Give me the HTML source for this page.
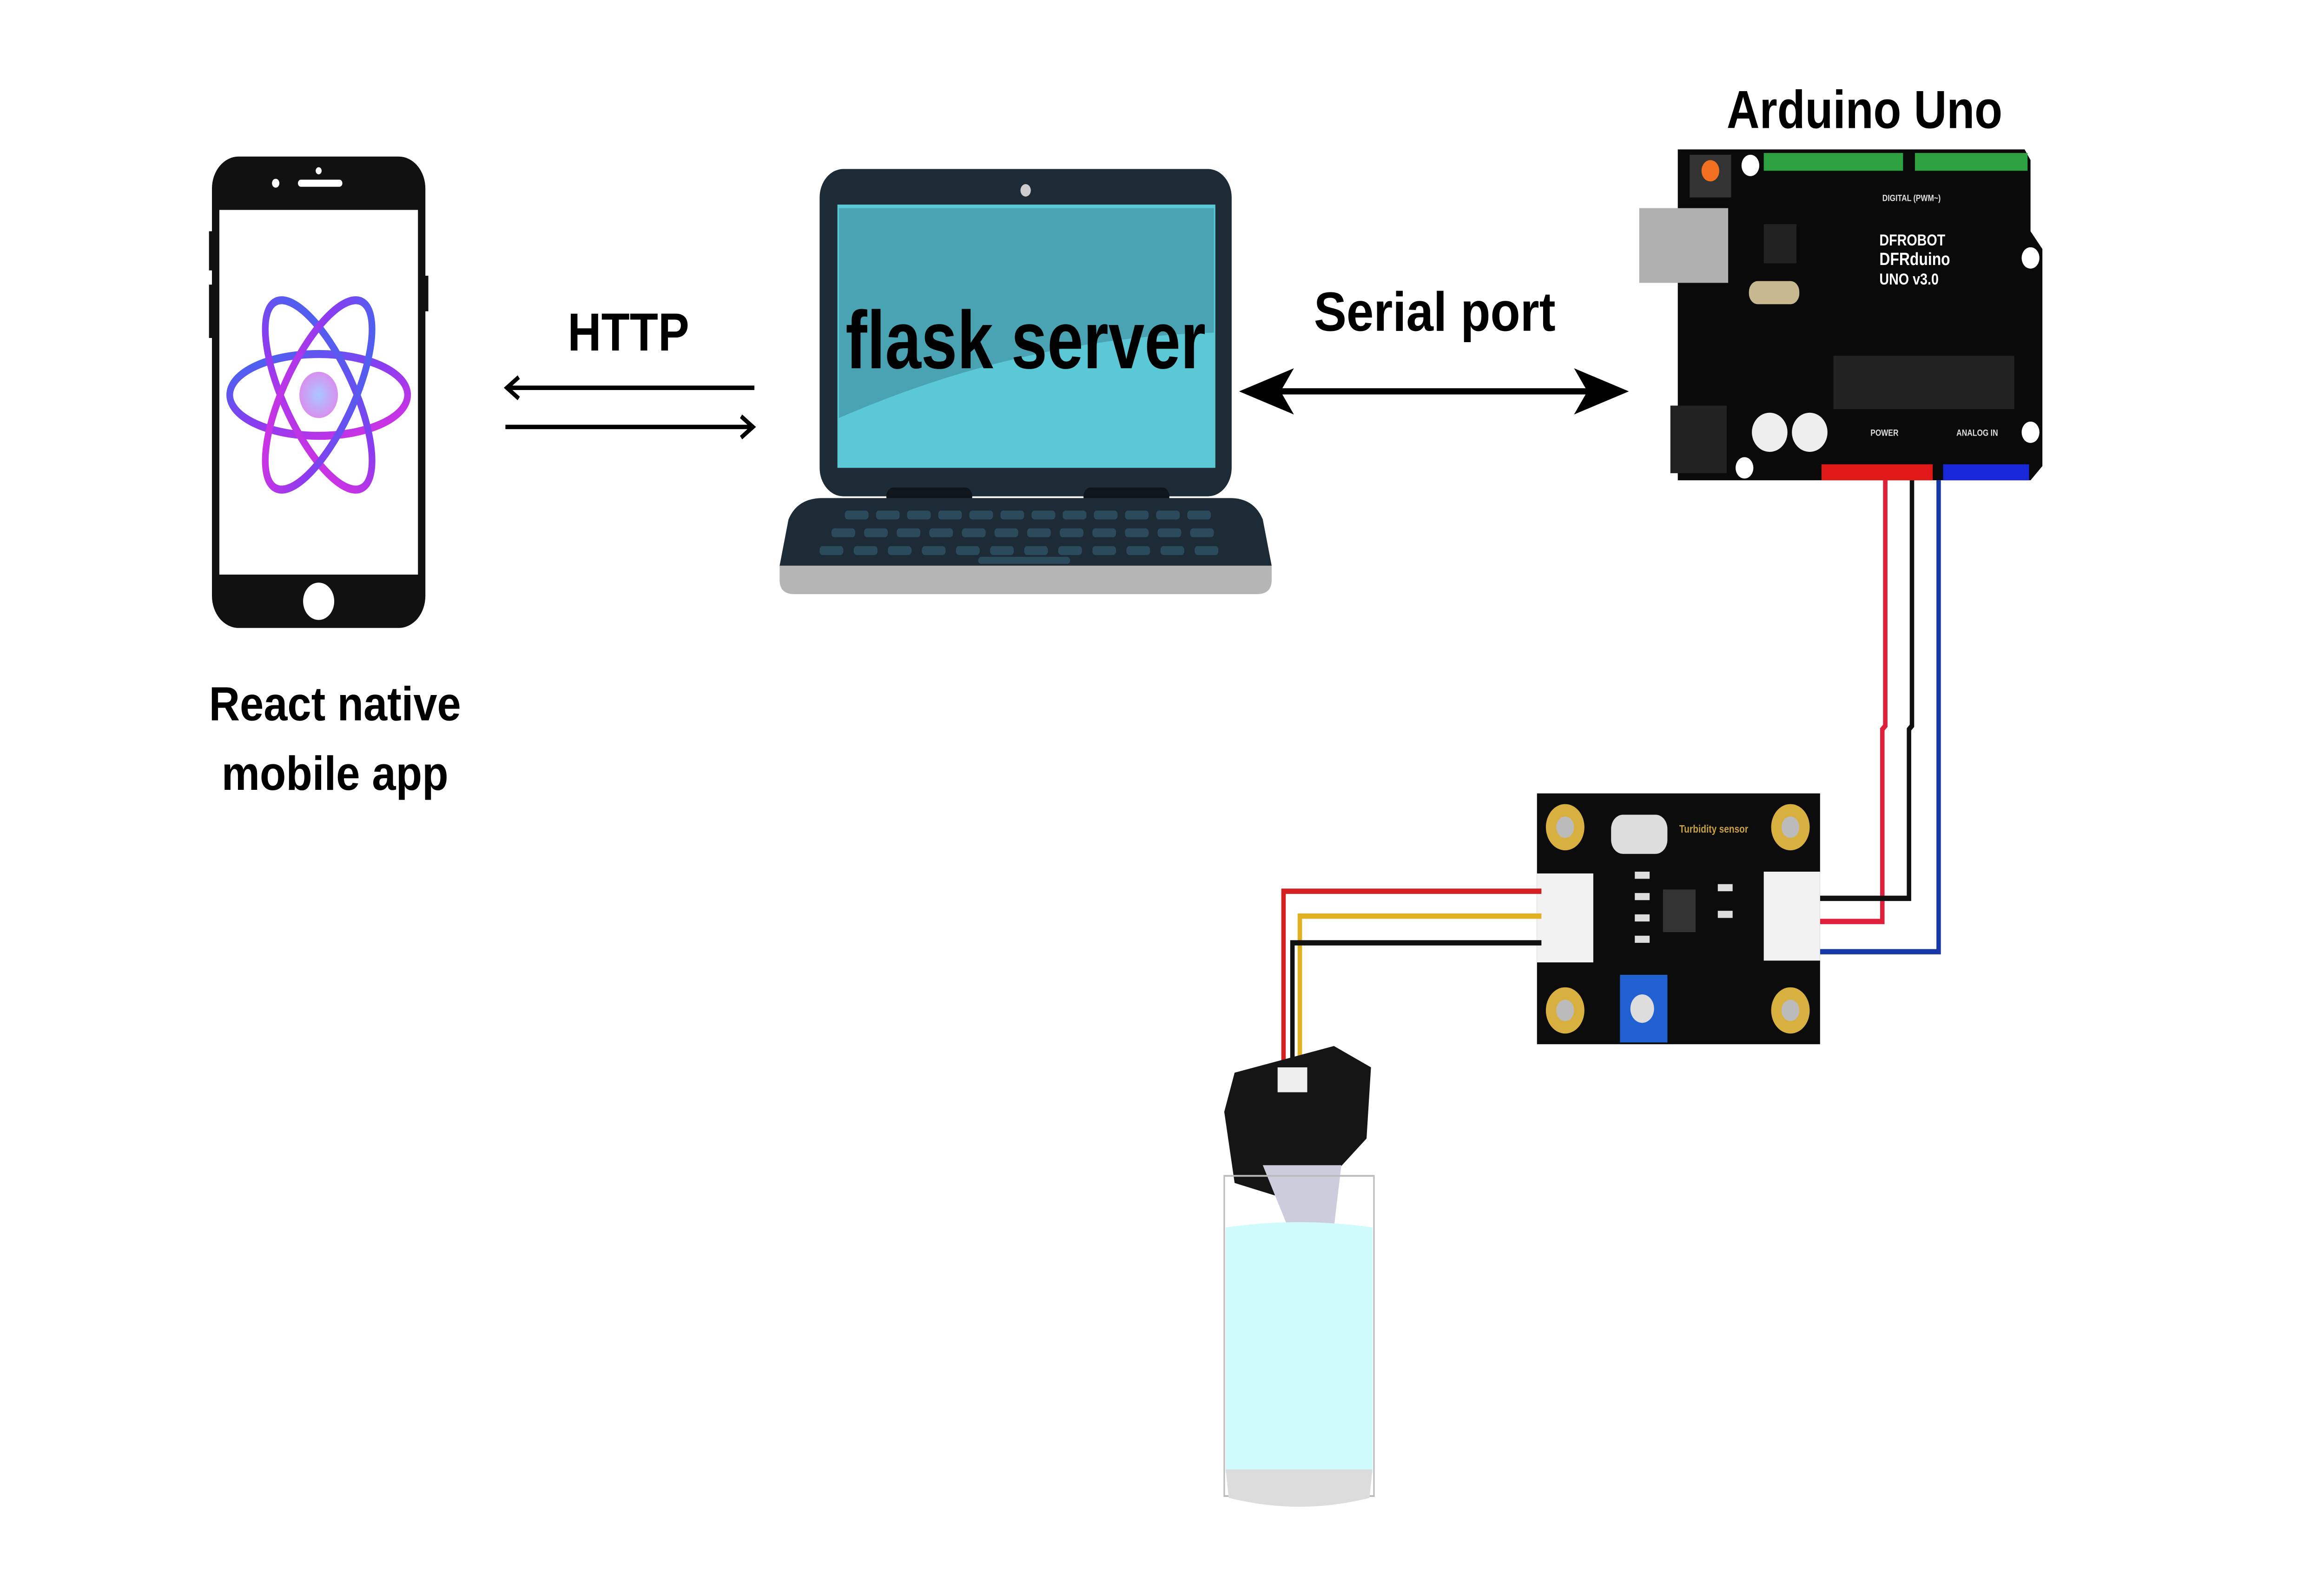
<!DOCTYPE html>
<html><head><meta charset="utf-8"><style>
html,body{margin:0;padding:0;background:#fff;width:100%;height:100%;overflow:hidden}
svg{display:block;position:fixed;left:0;top:0;width:100vw;height:100vh}
text{font-family:"Liberation Sans",sans-serif;font-weight:bold;fill:#000}
</style></head><body>
<svg viewBox="0 0 1568 882" preserveAspectRatio="none" xmlns="http://www.w3.org/2000/svg">
<defs>
<linearGradient id="ag" x1="0" y1="0" x2="1" y2="1">
<stop offset="0" stop-color="#3a6cf0"/><stop offset="0.5" stop-color="#8a3cf0"/><stop offset="1" stop-color="#e030e0"/>
</linearGradient>
<radialGradient id="cg"><stop offset="0" stop-color="#a8c8ff"/><stop offset="1" stop-color="#d890f0"/></radialGradient>
</defs>
<rect width="1568" height="882" fill="#fff"/>

<!-- Phone -->
<rect x="141" y="130" width="4" height="22" fill="#111"/>
<rect x="141" y="160" width="4" height="30" fill="#111"/>
<rect x="285" y="155" width="4" height="20" fill="#111"/>
<rect x="143" y="88" width="144" height="265" rx="18" fill="#111"/>
<rect x="148" y="118" width="134" height="205" fill="#fff"/>
<rect x="201" y="101" width="30" height="4" rx="2" fill="#fff"/>
<circle cx="186" cy="103" r="2.5" fill="#fff"/>
<circle cx="215" cy="96" r="2" fill="#fff"/>
<circle cx="215" cy="338" r="10.5" fill="#fff"/>
<g fill="none" stroke="url(#ag)" stroke-width="4.5">
<ellipse cx="215" cy="222" rx="60" ry="23"/>
<ellipse cx="215" cy="222" rx="60" ry="23" transform="rotate(60 215 222)"/>
<ellipse cx="215" cy="222" rx="60" ry="23" transform="rotate(120 215 222)"/>
</g>
<circle cx="215" cy="222" r="13" fill="url(#cg)"/>
<text x="226" y="405" font-size="27" text-anchor="middle" textLength="170" lengthAdjust="spacingAndGlyphs">React native</text>
<text x="226" y="444" font-size="27" text-anchor="middle" textLength="153" lengthAdjust="spacingAndGlyphs">mobile app</text>

<!-- HTTP arrows -->
<text x="424" y="197" font-size="30" text-anchor="middle" textLength="82" lengthAdjust="spacingAndGlyphs">HTTP</text>
<g stroke="#000" stroke-width="2.5" fill="none">
<line x1="342" y1="218" x2="509" y2="218"/>
<polyline points="350,212 342,218 350,224"/>
<line x1="341" y1="240" x2="508" y2="240"/>
<polyline points="500,234 508,240 500,246"/>
</g>

<!-- Laptop -->
<rect x="553" y="95" width="278" height="184" rx="16" fill="#1c2b36"/>
<rect x="565" y="115" width="255" height="148" fill="#5bc8d6"/>
<path d="M566,117 L819,117 L819,187 Q690,190 566,235 Z" fill="#4aa3b3"/>
<circle cx="692" cy="107" r="3.5" fill="#ccc"/>
<rect x="598" y="274" width="58" height="10" rx="5" fill="#0e161c"/>
<rect x="731" y="274" width="58" height="10" rx="5" fill="#0e161c"/>
<path d="M555,280 L830,280 Q846,280 852,292 L858,318 L526,318 L532,292 Q538,280 555,280 Z" fill="#1c2b36"/>
<path d="M526,318 L858,318 L858,326 Q858,334 848,334 L536,334 Q526,334 526,326 Z" fill="#b5b5b5"/>
<g fill="#2b4a5c">
<rect x="570" y="287" width="16" height="5" rx="2"/><rect x="591" y="287" width="16" height="5" rx="2"/><rect x="612" y="287" width="16" height="5" rx="2"/><rect x="633" y="287" width="16" height="5" rx="2"/><rect x="654" y="287" width="16" height="5" rx="2"/><rect x="675" y="287" width="16" height="5" rx="2"/><rect x="696" y="287" width="16" height="5" rx="2"/><rect x="717" y="287" width="16" height="5" rx="2"/><rect x="738" y="287" width="16" height="5" rx="2"/><rect x="759" y="287" width="16" height="5" rx="2"/><rect x="780" y="287" width="16" height="5" rx="2"/><rect x="801" y="287" width="16" height="5" rx="2"/>
<rect x="561" y="297" width="16" height="5" rx="2"/><rect x="583" y="297" width="16" height="5" rx="2"/><rect x="605" y="297" width="16" height="5" rx="2"/><rect x="627" y="297" width="16" height="5" rx="2"/><rect x="649" y="297" width="16" height="5" rx="2"/><rect x="671" y="297" width="16" height="5" rx="2"/><rect x="693" y="297" width="16" height="5" rx="2"/><rect x="715" y="297" width="16" height="5" rx="2"/><rect x="737" y="297" width="16" height="5" rx="2"/><rect x="759" y="297" width="16" height="5" rx="2"/><rect x="781" y="297" width="16" height="5" rx="2"/><rect x="803" y="297" width="16" height="5" rx="2"/>
<rect x="553" y="307" width="16" height="5" rx="2"/><rect x="576" y="307" width="16" height="5" rx="2"/><rect x="599" y="307" width="16" height="5" rx="2"/><rect x="622" y="307" width="16" height="5" rx="2"/><rect x="645" y="307" width="16" height="5" rx="2"/><rect x="668" y="307" width="16" height="5" rx="2"/><rect x="691" y="307" width="16" height="5" rx="2"/><rect x="714" y="307" width="16" height="5" rx="2"/><rect x="737" y="307" width="16" height="5" rx="2"/><rect x="760" y="307" width="16" height="5" rx="2"/><rect x="783" y="307" width="16" height="5" rx="2"/><rect x="806" y="307" width="16" height="5" rx="2"/>
<rect x="660" y="313" width="62" height="4" rx="2"/>
</g>
<text x="692" y="207" font-size="46" text-anchor="middle" textLength="243" lengthAdjust="spacingAndGlyphs">flask server</text>

<!-- Serial arrow -->
<text x="968" y="186" font-size="31" text-anchor="middle" textLength="163" lengthAdjust="spacingAndGlyphs">Serial port</text>
<line x1="855" y1="220" x2="1080" y2="220" stroke="#000" stroke-width="3.5"/>
<path d="M836,220 L873,207 L864,220 L873,233 Z" fill="#000"/>
<path d="M1099,220 L1062,207 L1071,220 L1062,233 Z" fill="#000"/>

<!-- Arduino -->
<text x="1258" y="72" font-size="30" text-anchor="middle" textLength="186" lengthAdjust="spacingAndGlyphs">Arduino Uno</text>
<path d="M1132,84 L1366,84 L1370,90 L1370,130 L1378,140 L1378,262 L1370,270 L1132,270 Z" fill="#0a0a0a"/>
<rect x="1106" y="117" width="60" height="42" fill="#b0b0b0"/>
<rect x="1127" y="228" width="38" height="38" fill="#222"/>
<rect x="1140" y="87" width="28" height="24" fill="#333"/>
<circle cx="1154" cy="96" r="6" fill="#f07020"/>
<rect x="1190" y="86" width="94" height="10" fill="#2da040"/>
<rect x="1292" y="86" width="76" height="10" fill="#2da040"/>
<circle cx="1181" cy="93" r="6" fill="#fff"/>
<circle cx="1370" cy="145" r="6" fill="#fff"/>
<circle cx="1370" cy="243" r="6" fill="#fff"/>
<circle cx="1177" cy="263" r="6" fill="#fff"/>
<ellipse cx="1194" cy="243" rx="12" ry="11" fill="#eee"/>
<ellipse cx="1221" cy="243" rx="12" ry="11" fill="#eee"/>
<rect x="1180" y="158" width="34" height="13" rx="6" fill="#c8b890"/>
<rect x="1237" y="200" width="122" height="30" fill="#222"/>
<rect x="1190" y="126" width="22" height="22" fill="#222"/>
<text x="1268" y="138" font-size="9" style="fill:#fff">DFROBOT</text>
<text x="1268" y="149" font-size="10" style="fill:#fff">DFRduino</text>
<text x="1268" y="160" font-size="9" style="fill:#fff">UNO v3.0</text>
<text x="1270" y="113" font-size="5" style="fill:#ddd">DIGITAL (PWM~)</text>
<text x="1320" y="245" font-size="5" style="fill:#ddd">ANALOG IN</text>
<text x="1262" y="245" font-size="5" style="fill:#ddd">POWER</text>
<rect x="1229" y="261" width="75" height="9" fill="#e01818"/>
<rect x="1311" y="261" width="58" height="9" fill="#1828d8"/>

<!-- Arduino wires -->
<g fill="none" stroke-width="3">
<polyline points="1272,270 1272,408 1270,410 1270,518 1228,518" stroke="#e0203a"/>
<polyline points="1290,270 1290,408 1288,410 1288,505 1228,505" stroke="#111"/>
<polyline points="1308,270 1308,535 1228,535" stroke="#1838a8"/>
</g>

<!-- Sensor board -->
<rect x="1037" y="446" width="191" height="141" fill="#0c0c0c"/>
<g fill="#d8b040"><circle cx="1056" cy="465" r="13"/><circle cx="1208" cy="465" r="13"/><circle cx="1056" cy="568" r="13"/><circle cx="1208" cy="568" r="13"/></g>
<g fill="#bbb"><circle cx="1056" cy="465" r="6"/><circle cx="1208" cy="465" r="6"/><circle cx="1056" cy="568" r="6"/><circle cx="1208" cy="568" r="6"/></g>
<rect x="1037" y="491" width="38" height="50" fill="#f2f2f2"/>
<rect x="1190" y="490" width="38" height="50" fill="#f2f2f2"/>
<rect x="1093" y="548" width="32" height="38" fill="#2060d0"/>
<circle cx="1108" cy="567" r="8" fill="#ddd"/>
<rect x="1087" y="458" width="38" height="22" rx="8" fill="#ddd"/>
<rect x="1122" y="500" width="22" height="24" fill="#333"/>
<g fill="#ddd"><rect x="1103" y="490" width="10" height="4"/><rect x="1103" y="502" width="10" height="4"/><rect x="1103" y="514" width="10" height="4"/><rect x="1103" y="526" width="10" height="4"/><rect x="1159" y="497" width="10" height="4"/><rect x="1159" y="512" width="10" height="4"/></g>
<text x="1133" y="468" font-size="6" style="fill:#c8a040">Turbidity sensor</text>

<!-- Sensor wires -->
<g fill="none" stroke-width="3">
<polyline points="1040,501 866,501 866,612" stroke="#d42020"/>
<polyline points="1040,515 877,515 877,608" stroke="#e0b020"/>
<polyline points="1040,530 872,530 872,610" stroke="#111"/>
</g>

<!-- Probe + glass -->
<path d="M833,603 L900,588 L925,600 L922,640 L900,660 L860,672 L833,665 L826,625 Z" fill="#151515"/>
<rect x="862" y="600" width="20" height="14" fill="#eee"/>
<path d="M852,655 L905,655 L900,690 L870,692 Z" fill="#ccd"/>
<rect x="826" y="661" width="101" height="180" fill="none" stroke="#bbb" stroke-width="1"/>
<path d="M827,690 Q877,684 926,690 L926,828 L827,828 Z" fill="#cffbfc"/>
<path d="M827,826 L926,826 L924,842 Q877,852 829,842 Z" fill="#dcdcdc"/>
</svg>
</body></html>
